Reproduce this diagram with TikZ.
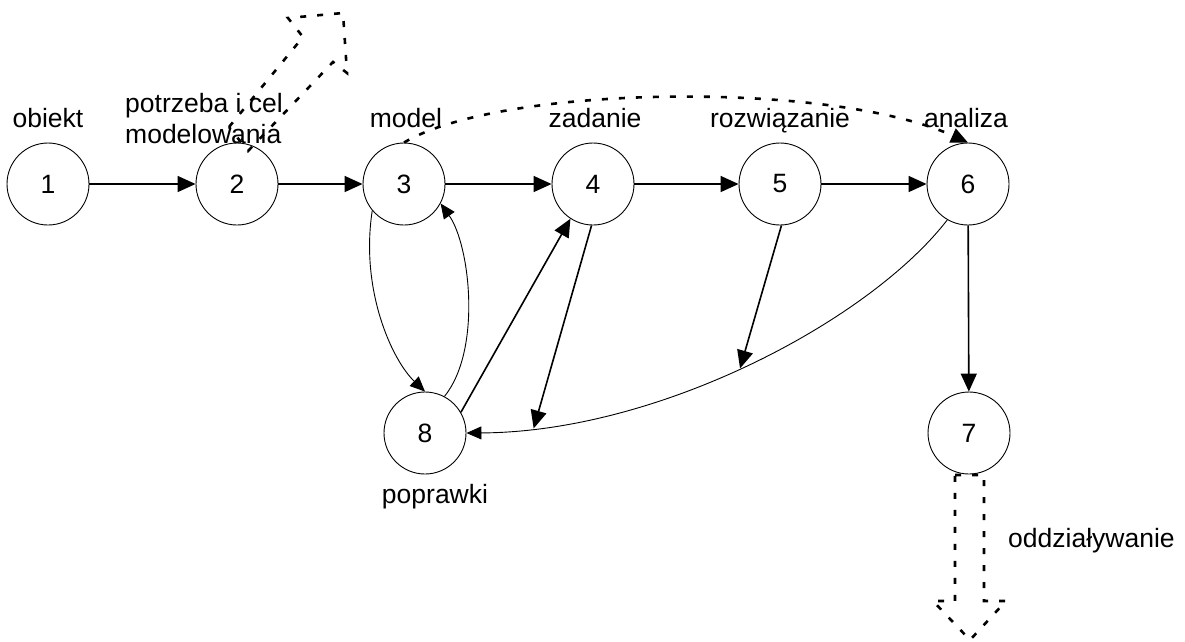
\documentclass[tikz,border=0pt]{standalone}
\usepackage{fontspec}
\setmainfont{Liberation Sans}
\usetikzlibrary{arrows.meta}
\begin{document}
\begin{tikzpicture}[x=1pt,y=-1pt,
  st/.style={circle,draw,line width=0.9pt,minimum size=82pt,inner sep=0pt,font=\fontsize{26.5}{30}\selectfont},
  lbl/.style={font=\fontsize{26.5}{30}\selectfont,inner sep=0pt},
  harr/.style={line width=1.6pt,-{Triangle[length=18pt,width=16pt]}},
  tarr/.style={line width=0.9pt,-{Triangle[length=15pt,width=13pt]}},
  dots/.style={line width=2.6pt,dash pattern=on 6pt off 11pt}]
\useasboundingbox (0,0) rectangle (1185,641);
% states
\node[st] (n1) at (48,184) {1};
\node[st] (n2) at (237,184) {2};
\node[st] (n3) at (404,184) {3};
\node[st] (n4) at (593,184) {4};
\node[st] (n5) at (780,184) {5};
\node[st] (n6) at (968,184) {6};
\node[st] (n7) at (969,433) {7};
\node[st] (n8) at (425,433) {8};
% labels
\node[lbl,anchor=base] (lob) at (48,127) {obiekt};
\node[lbl,anchor=base west] (lpc) at (125,112) {potrzeba i cel};
\node[lbl,anchor=base west] (lmo) at (125,143) {modelowania};
\node[lbl,anchor=base] (lmd) at (406,127) {model};
\node[lbl,anchor=base] (lza) at (595,127) {zadanie};
\node[lbl,anchor=base] (lro) at (780,127) {rozwiązanie};
\node[lbl,anchor=base] (lan) at (966,127) {analiza};
\node[lbl,anchor=base] (lpo) at (435,503) {poprawki};
\node[lbl,anchor=base west] (lod) at (1008,547) {oddziaływanie};
% main chain
\draw[harr] (n1) -- (n2);
\draw[harr] (n2) -- (n3);
\draw[harr] (n3) -- (n4);
\draw[harr] (n4) -- (n5);
\draw[harr] (n5) -- (n6);
\draw[harr] (n6) -- (n7);
% feedback
\draw[tarr] (n6.240) .. controls (870,320) and (660,432) .. (n8.east)
  coordinate[pos=0.52] (c5) coordinate[pos=0.885] (c4);
\draw[harr] (n5.272) -- (c5);
\draw[harr] (n4.268) -- (c4);
\draw[harr] (n8.30) -- (n4.237);
\draw[tarr] (n3.220) .. controls (360,290) and (392,360) .. (n8.north);
\draw[tarr] (n8.62) .. controls (482,350) and (470,245) .. (n3.-28);
% dotted
\draw[dots,-{Triangle[length=17pt,width=15pt]}] (n3.north) .. controls (500,85) and (830,80) .. (n6.north);
\draw[dots,line join=miter] (229,127) -- (303,37) -- (288,18) -- (343,13) -- (347,73) -- (333,62) -- (248,151) -- cycle;
\draw[dots,line join=miter] (955,475) -- (984,475) -- (984,601) -- (1006,601) -- (970,640) -- (933,601) -- (955,601) -- cycle;
\end{tikzpicture}
\end{document}
